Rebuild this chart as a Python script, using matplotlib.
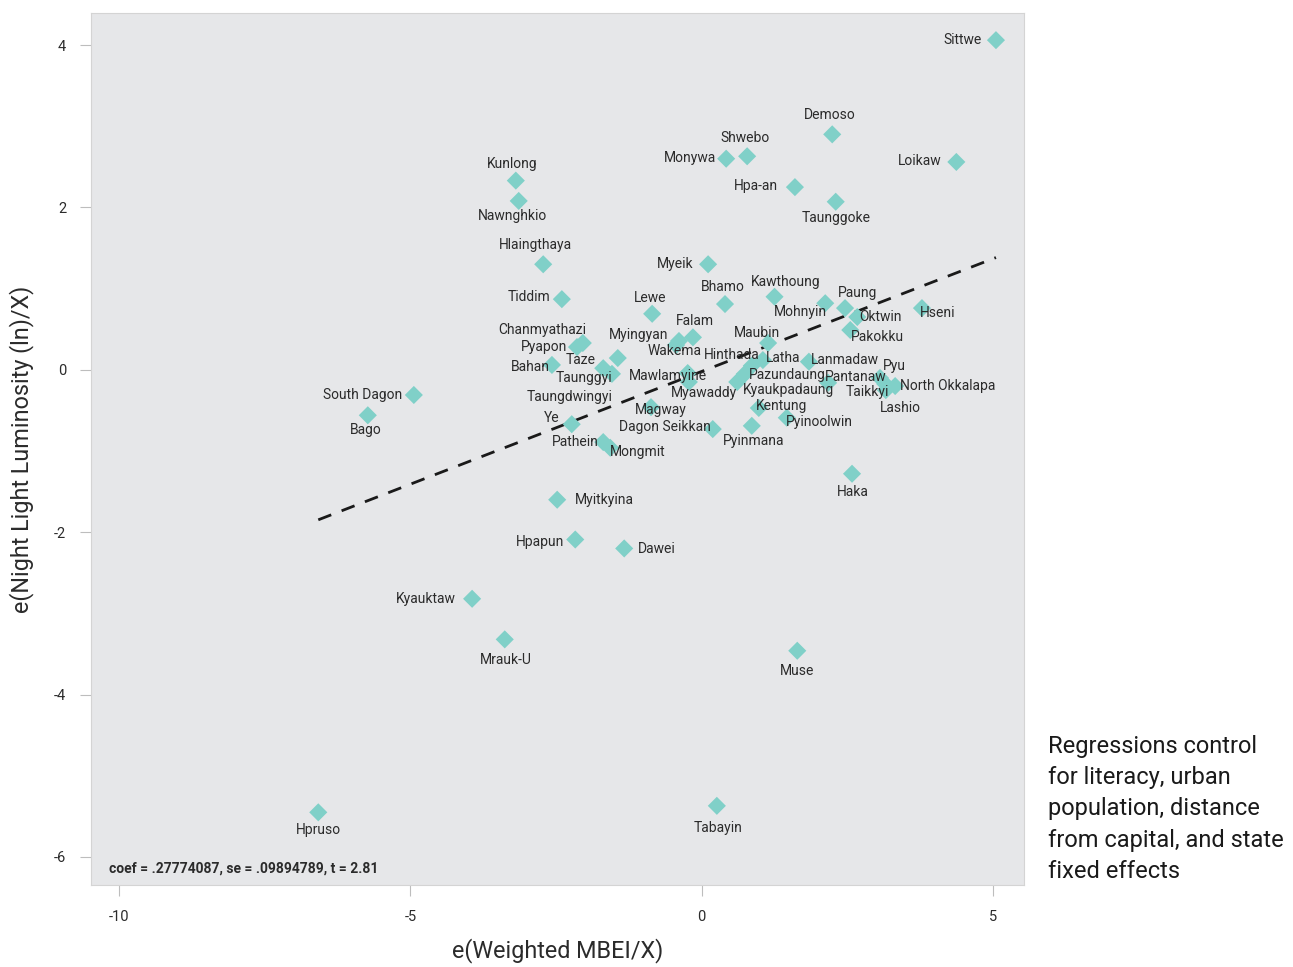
import numpy as np
import matplotlib.pyplot as plt

plt.rcParams['font.family'] = ['Roboto', 'DejaVu Sans']
plt.rcParams['axes.unicode_minus'] = False

# --- dados (resíduos) ---
names = ["Sittwe", "Demoso", "Shwebo", "Monywa", "Loikaw", "Hpa-an", "Taunggoke",
         "Kunlong", "Nawnghkio", "Hlaingthaya", "Myeik", "Tiddim", "Lewe", "Bhamo",
         "Kawthoung", "Mohnyin", "Paung", "Oktwin", "Hseni", "Pakokku", "Falam",
         "Maubin", "Chanmyathazi", "Pyapon", "Taze", "Myingyan", "Wakema", "Bahan",
         "Taunggyi", "Taungdwingyi", "Mawlamyine", "Myawaddy", "Hinthada", "Latha",
         "Pazundaung", "Kyaukpadaung", "Lanmadaw", "Pantanaw", "Pyu", "Taikkyi",
         "North Okkalapa", "Lashio", "Kentung", "Pyinoolwin", "Pyinmana",
         "Dagon Seikkan", "Magway", "Ye", "Pathein", "Mongmit", "Haka",
         "South Dagon", "Bago", "Myitkyina", "Hpapun", "Dawei", "Kyauktaw",
         "Mrauk-U", "Muse", "Hpruso", "Tabayin"]

mbei = [5.05, 2.24, 0.78, 0.42, 4.37, 1.60, 2.30,
        -3.19, -3.14, -2.72, 0.11, -2.40, -0.85, 0.40,
        1.25, 2.12, 2.46, 2.67, 3.78, 2.55, -0.15,
        1.14, -2.04, -2.14, -1.44, -0.44, -0.39, -2.57,
        -1.69, -1.54, -0.24, -0.22, 0.86, 1.05,
        0.74, 0.61, 1.84, 2.17, 3.06, 3.16,
        3.32, 3.15, 0.98, 1.46, 0.86,
        0.19, -0.87, -2.23, -1.69, -1.57, 2.58,
        -4.94, -5.73, -2.48, -2.17, -1.33, -3.94,
        -3.38, 1.64, -6.58, 0.26]

lum = [4.06, 2.90, 2.63, 2.60, 2.56, 2.25, 2.07,
       2.33, 2.08, 1.30, 1.30, 0.87, 0.69, 0.81,
       0.90, 0.82, 0.76, 0.65, 0.76, 0.49, 0.40,
       0.33, 0.33, 0.28, 0.145, 0.305, 0.355, 0.06,
       0.02, -0.05, -0.04, -0.15, 0.05, 0.12,
       -0.05, -0.15, 0.10, -0.16, -0.10, -0.25,
       -0.20, -0.175, -0.47, -0.59, -0.69,
       -0.73, -0.46, -0.67, -0.89, -0.96, -1.28,
       -0.31, -0.56, -1.60, -2.09, -2.20, -2.82,
       -3.32, -3.46, -5.45, -5.37]

coef = 0.27774087
se = 0.09894789
tstat = 2.81
intercept = -0.02

# deslocamento dos rótulos (pixels, centro do texto em relação ao marcador)
lab_dx = [-33, -2, -2, -36, -37, -39, 0,
          -4, -6, -8, -33, -33, -2, -2,
          11, -25, 13, 23, 16, 27, 2,
          -11, -41, -33, -37, -37, -4, -22,
          -19, -42, -20, 15, -20, 20,
          42, 51, 36, 28, 14, -18,
          53, 15, 23, 33, 2,
          -48, 10, -20, -28, 27, 1,
          -51, -2, 47, -35, 33, -46,
          1, 0, 0, 1]
lab_dy = [0, -19, -18, -1, -1, -1, 16,
          -17, 15, -19, 0, -2, -16, -17,
          -15, 9, -15, 0, 5, 7, -16,
          -10, -13, 0, 2, -10, 10, 2,
          10, 23, 3, 11, -11, -2,
          1, 8, -2, -6, -12, 2,
          0, 24, -2, 4, 15,
          -2, 3, -6, 0, 4, 18,
          0, 15, 0, 2, 1, 0,
          21, 20, 18, 22]

# --- figura ---
fig = plt.figure(figsize=(12.93, 9.67), dpi=100)
ax = fig.add_axes([0.0704, 0.0848, 0.7215, 0.9018])
ax.set_facecolor('#e6e7e9')

xs = np.linspace(min(mbei), max(mbei), 2)
ax.plot(xs, coef * xs + intercept, color='#1a1a1a', linestyle=(0, (5, 4)), linewidth=2, zorder=2)

ax.scatter(mbei, lum, marker='D', s=85, color='#80d0c8', edgecolors='none', zorder=3)

px2pt = 72 / 100
for n, x, y, dx, dy in zip(names, mbei, lum, lab_dx, lab_dy):
    ax.annotate(n, (x, y), xytext=(dx * px2pt, -dy * px2pt), textcoords='offset points',
                ha='center', va='center', fontsize=10, color='#2b2b2b', zorder=4)

ax.text(0.019, 0.011, f"coef = {coef:.8f}".replace("0.", ".") + f", se = {se:.8f}".replace("0.", ".") +
        f", t = {tstat:.2f}", transform=ax.transAxes, fontsize=10, fontweight='bold',
        color='#2b2b2b', ha='left', va='bottom')

ax.set_xlim(-10.48, 5.53)
ax.set_ylim(-6.345, 4.395)
ax.set_xticks([-10, -5, 0, 5])
ax.set_yticks([-6, -4, -2, 0, 2, 4])
ax.tick_params(axis='both', direction='out', length=8, width=0.8, color='#bdbdbd',
               labelsize=10.5, labelcolor='#2b2b2b', pad=10)
for sp in ax.spines.values():
    sp.set_color('#d4d4d4')
    sp.set_linewidth(0.8)

ax.set_xlabel("e(Weighted MBEI/X)", fontsize=16.8, color='#2b2b2b', labelpad=10)
ax.set_ylabel("e(Night Light Luminosity (ln)/X)", fontsize=16.8, color='#2b2b2b', labelpad=14)

fig.text(0.8105, 0.24, "Regressions control\nfor literacy, urban\npopulation, distance\n"
         "from capital, and state\nfixed effects", fontsize=17, color='#1a1a1a',
         ha='left', va='top', linespacing=1.46)

fig.savefig('out.png', dpi=100)
